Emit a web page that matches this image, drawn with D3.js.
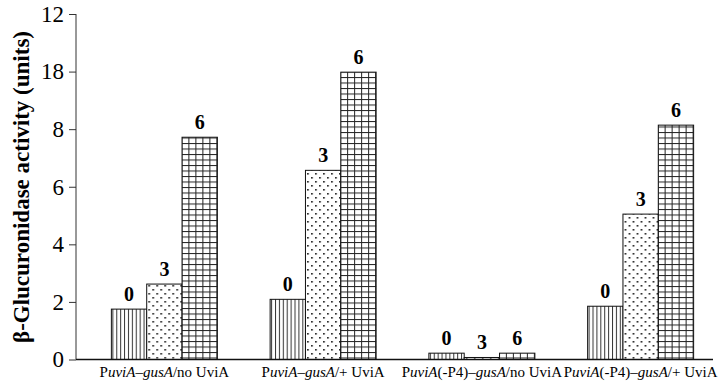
<!DOCTYPE html>
<html>
<head>
<meta charset="utf-8">
<script src="https://cdn.jsdelivr.net/npm/d3@7"></script>
<style>
  body { margin: 0; background: #fff; }
</style>
</head>
<body>
<div id="content"></div>
<script>
// data
var groups = ["g1", "g2", "g3", "g4"];
var groupLabels = [
    [["P", 0], ["uviA", 1], ["\u2013", 0], ["gusA", 1], ["/no UviA", 0]],
    [["P", 0], ["uviA", 1], ["\u2013", 0], ["gusA", 1], ["/+ UviA", 0]],
    [["P", 0], ["uviA", 1], ["(-P4)\u2013", 0], ["gusA", 1], ["/no UviA", 0]],
    [["P", 0], ["uviA", 1], ["(-P4)\u2013", 0], ["gusA", 1], ["/+ UviA", 0]]
];
var times = ["0", "3", "6"];
var hour0 = [1.75, 2.09, 0.22, 1.85];
var hour3 = [2.62, 6.57, 0.07, 5.05];
var hour6 = [7.72, 9.98, 0.22, 8.14];
var yTicks = [0, 2, 4, 6, 8, 10, 12];
var yTickLabels = ["0", "2", "4", "6", "8", "18", "12"];   // as printed on the original
var yTitle = "\u03b2-Glucuronidase activity (units)";

var FONT = "'Liberation Serif', 'Times New Roman', serif";
var width = 720, height = 382;
var svg = d3.select("#content").append("svg")
    .attr("width", width)
    .attr("height", height);

var defs = svg.append("defs");

// vertical lines
var p0 = defs.append("pattern").attr("id", "pat0")
    .attr("patternUnits", "userSpaceOnUse").attr("width", 3.9).attr("height", 10);
p0.append("rect").attr("width", 3.9).attr("height", 10).attr("fill", "#fff");
p0.append("line").attr("x1", 1.5).attr("x2", 1.5).attr("y1", 0).attr("y2", 10)
    .attr("stroke", "#333").attr("stroke-width", 1);

// staggered dots
var p1 = defs.append("pattern").attr("id", "pat1")
    .attr("patternUnits", "userSpaceOnUse").attr("width", 8).attr("height", 8);
p1.append("rect").attr("width", 8).attr("height", 8).attr("fill", "#fff");
p1.append("rect").attr("x", 1).attr("y", 1).attr("width", 1.6).attr("height", 1.6).attr("fill", "#111");
p1.append("rect").attr("x", 5).attr("y", 5).attr("width", 1.6).attr("height", 1.6).attr("fill", "#111");

// grid
var p2 = defs.append("pattern").attr("id", "pat2")
    .attr("patternUnits", "userSpaceOnUse").attr("width", 7).attr("height", 5.5);
p2.append("rect").attr("width", 7).attr("height", 5.5).attr("fill", "#fff");
p2.append("line").attr("x1", 0.5).attr("x2", 0.5).attr("y1", 0).attr("y2", 5.5)
    .attr("stroke", "#222").attr("stroke-width", 1);
p2.append("line").attr("x1", 0).attr("x2", 7).attr("y1", 0.5).attr("y2", 0.5)
    .attr("stroke", "#222").attr("stroke-width", 1);

var padding = { top: 14, left: 76, bottom: 23 };

var yScale = d3.scaleLinear()
    .domain([0, 12])
    .range([359.5, padding.top]);

var xScale = d3.scaleBand()
    .domain(groups)
    .range([85, 720]);

var xInner = d3.scaleBand()
    .domain(times)
    .range([0, 106]);

var series = [hour0, hour3, hour6];

// bars
groups.forEach(function (g, i) {
    var gx = xScale(g) + xScale.bandwidth() / 2 - 53;
    var grp = svg.append("g").attr("transform", "translate(" + gx + ",0)");
    times.forEach(function (t, j) {
        var v = series[j][i];
        grp.append("rect")
            .attr("x", xInner(t))
            .attr("y", yScale(v))
            .attr("width", xInner.bandwidth())
            .attr("height", yScale(0) - yScale(v))
            .attr("fill", "url(#pat" + j + ")")
            .attr("stroke", "#111")
            .attr("stroke-width", 1);
        grp.append("text")
            .attr("x", xInner(t) + xInner.bandwidth() / 2)
            .attr("y", yScale(v) - 8)
            .attr("text-anchor", "middle")
            .style("font-family", FONT)
            .style("font-size", "20px")
            .style("font-weight", "bold")
            .text(t);
    });
});

// y axis
var yAxis = d3.axisLeft(yScale)
    .tickValues(yTicks)
    .tickFormat(function (d, i) { return yTickLabels[i]; })
    .tickSize(7)
    .tickPadding(5);

var yg = svg.append("g")
    .attr("transform", "translate(" + padding.left + ",0)")
    .call(yAxis);
yg.select(".domain").remove();
yg.append("line").attr("x1", 0).attr("x2", 0)
    .attr("y1", yScale(12)).attr("y2", yScale(0))
    .attr("stroke", "#333");
yg.selectAll(".tick line").attr("stroke", "#333");
yg.selectAll(".tick text")
    .style("font-family", FONT)
    .style("font-size", "23px")
    .attr("fill", "#000");

// x axis baseline
svg.append("line")
    .attr("x1", padding.left).attr("x2", 713)
    .attr("y1", yScale(0)).attr("y2", yScale(0))
    .attr("stroke", "#111").attr("stroke-width", 1.3);

// category labels
groups.forEach(function (g, i) {
    var t = svg.append("text")
        .attr("x", xScale(g) + xScale.bandwidth() / 2)
        .attr("y", 377)
        .attr("text-anchor", "middle")
        .style("font-family", FONT)
        .style("font-size", "15px");
    groupLabels[i].forEach(function (part) {
        t.append("tspan")
            .style("font-style", part[1] ? "italic" : "normal")
            .text(part[0]);
    });
});

// y title
svg.append("text")
    .attr("transform", "translate(29,187) rotate(-90)")
    .attr("text-anchor", "middle")
    .style("font-family", FONT)
    .style("font-size", "23px")
    .style("font-weight", "bold")
    .text(yTitle);
</script>
</body>
</html>
